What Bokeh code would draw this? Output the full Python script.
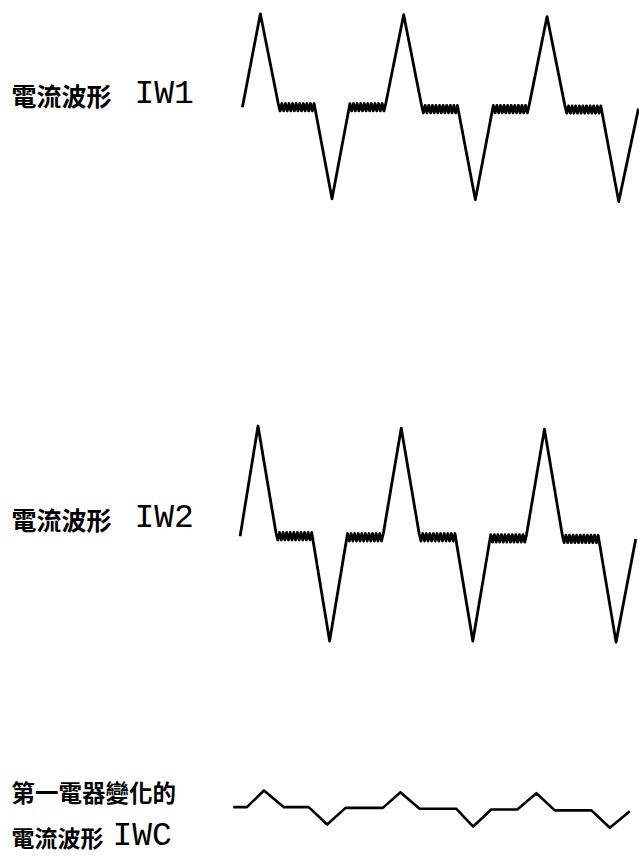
from bokeh.plotting import figure
from bokeh.models import Range1d, Label
from bokeh.embed import file_html
from bokeh.resources import INLINE

# ---------------- data (time in ramp units, value in peak units) ----------------
wave_t = [
    0, 1,
    2, 2.1, 2.2, 2.3, 2.4, 2.5, 2.6, 2.7, 2.8, 2.9, 3, 3.1, 3.2, 3.3, 3.4, 3.5, 3.6, 3.7, 3.8, 3.9, 4,
    5,
    6, 6.1, 6.2, 6.3, 6.4, 6.5, 6.6, 6.7, 6.8, 6.9, 7, 7.1, 7.2, 7.3, 7.4, 7.5, 7.6, 7.7, 7.8, 7.9, 8,
    9,
    10, 10.1, 10.2, 10.3, 10.4, 10.5, 10.6, 10.7, 10.8, 10.9, 11, 11.1, 11.2, 11.3, 11.4, 11.5, 11.6, 11.7, 11.8, 11.9, 12,
    13,
    14, 14.1, 14.2, 14.3, 14.4, 14.5, 14.6, 14.7, 14.8, 14.9, 15, 15.1, 15.2, 15.3, 15.4, 15.5, 15.6, 15.7, 15.8, 15.9, 16,
    17,
    18, 18.1, 18.2, 18.3, 18.4, 18.5, 18.6, 18.7, 18.8, 18.9, 19, 19.1, 19.2, 19.3, 19.4, 19.5, 19.6, 19.7, 19.8, 19.9, 20,
    21, 22.1,
]

iw1_v = [
    0, 1.01,
    0.04, -0.04, 0.04, -0.04, 0.04, -0.04, 0.04, -0.04, 0.04, -0.04, 0.04, -0.04, 0.04, -0.04, 0.04, -0.04, 0.04, -0.04, 0.04, -0.04, 0.04,
    -0.99,
    0.04, -0.04, 0.04, -0.04, 0.04, -0.04, 0.04, -0.04, 0.04, -0.04, 0.04, -0.04, 0.04, -0.04, 0.04, -0.04, 0.04, -0.04, 0.04, -0.04, 0.04,
    1.0,
    0.02, -0.06, 0.02, -0.06, 0.02, -0.06, 0.02, -0.06, 0.02, -0.06, 0.02, -0.06, 0.02, -0.06, 0.02, -0.06, 0.02, -0.06, 0.02, -0.06, 0.02,
    -1.0,
    0.02, -0.06, 0.02, -0.06, 0.02, -0.06, 0.02, -0.06, 0.02, -0.06, 0.02, -0.06, 0.02, -0.06, 0.02, -0.06, 0.02, -0.06, 0.02, -0.06, 0.02,
    0.98,
    0.015, -0.065, 0.015, -0.065, 0.015, -0.065, 0.015, -0.065, 0.015, -0.065, 0.015, -0.065, 0.015, -0.065, 0.015, -0.065, 0.015, -0.065, 0.015, -0.065, 0.015,
    -1.02, -0.015,
]

iw2_v = [
    0, 1.03,
    0.035, -0.035, 0.035, -0.035, 0.035, -0.035, 0.035, -0.035, 0.035, -0.035, 0.035, -0.035, 0.035, -0.035, 0.035, -0.035, 0.035, -0.035, 0.035, -0.035, 0.035,
    -0.98,
    0.025, -0.045, 0.025, -0.045, 0.025, -0.045, 0.025, -0.045, 0.025, -0.045, 0.025, -0.045, 0.025, -0.045, 0.025, -0.045, 0.025, -0.045, 0.025, -0.045, 0.025,
    1.01,
    0.025, -0.045, 0.025, -0.045, 0.025, -0.045, 0.025, -0.045, 0.025, -0.045, 0.025, -0.045, 0.025, -0.045, 0.025, -0.045, 0.025, -0.045, 0.025, -0.045, 0.025,
    -0.98,
    0.015, -0.055, 0.015, -0.055, 0.015, -0.055, 0.015, -0.055, 0.015, -0.055, 0.015, -0.055, 0.015, -0.055, 0.015, -0.055, 0.015, -0.055, 0.015, -0.055, 0.015,
    1.0,
    0.01, -0.06, 0.01, -0.06, 0.01, -0.06, 0.01, -0.06, 0.01, -0.06, 0.01, -0.06, 0.01, -0.06, 0.01, -0.06, 0.01, -0.06, 0.01, -0.06, 0.01,
    -0.99, -0.025,
]

iwc_t = [-0.8, 0, 1, 2.17, 3.63, 4.71, 5.79, 7.98, 9.01, 10.13, 12.28, 13.28,
         14.34, 15.87, 16.99, 18.07, 20.22, 21.3, 22.47]
iwc_v = [0, 0, 0.98, 0, 0, -1.02, -0.04, -0.04, 0.88, -0.09, -0.09, -1.14,
         -0.14, -0.14, 0.82, -0.19, -0.19, -1.21, -0.24]

labels_iw1 = ["電流波形", "IW1"]
labels_iw2 = ["電流波形", "IW2"]
labels_iwc = ["第一電器變化的", "電流波形", "IWC"]

# ---------------- figure ----------------
W, H = 639, 866
p = figure(width=W, height=H, output_backend="svg", toolbar_location=None,
           x_range=Range1d(0, W), y_range=Range1d(H, 0), min_border=0)
p.xaxis.visible = False
p.yaxis.visible = False
p.grid.visible = False
p.outline_line_color = None
p.background_fill_color = "white"
p.border_fill_color = "white"

p.extra_x_ranges = {
    "iw1x": Range1d(-13.50, 22.16),
    "iw2x": Range1d(-13.385, 22.31),
    "iwcx": Range1d(-14.46, 23.04),
}
p.extra_y_ranges = {
    "iw1y": Range1d(-8.208, 1.154),
    "iw2y": Range1d(-3.087, 5.007),
    "iwcy": Range1d(-3.49, 47.45),
}

lw = 2.8
p.line(wave_t, iw1_v, x_range_name="iw1x", y_range_name="iw1y",
       line_color="black", line_width=lw, line_join="round")
p.line(wave_t, iw2_v, x_range_name="iw2x", y_range_name="iw2y",
       line_color="black", line_width=lw, line_join="round")
p.line(iwc_t, iwc_v, x_range_name="iwcx", y_range_name="iwcy",
       line_color="black", line_width=2.6, line_join="round")

cjk = "Noto Sans CJK TC"
lat = "Liberation Mono"

def lab(x, y, text, font, size, style="normal"):
    p.add_layout(Label(x=x, y=y, text=text, text_font=font,
                       text_font_size=f"{size}px", text_color="black",
                       text_font_style=style,
                       text_baseline="middle", text_align="left"))

lab(11, 94, labels_iw1[0], cjk, 25, "bold")
lab(134, 94, labels_iw1[1], lat, 33)
lab(11, 518, labels_iw2[0], cjk, 25, "bold")
lab(134, 518, labels_iw2[1], lat, 33)
lab(11, 791, labels_iwc[0], cjk, 23.5, "bold")
lab(11, 836, labels_iwc[1], cjk, 23, "bold")
lab(112, 836, labels_iwc[2], lat, 33)

open("out.html", "w").write(file_html(p, INLINE))
